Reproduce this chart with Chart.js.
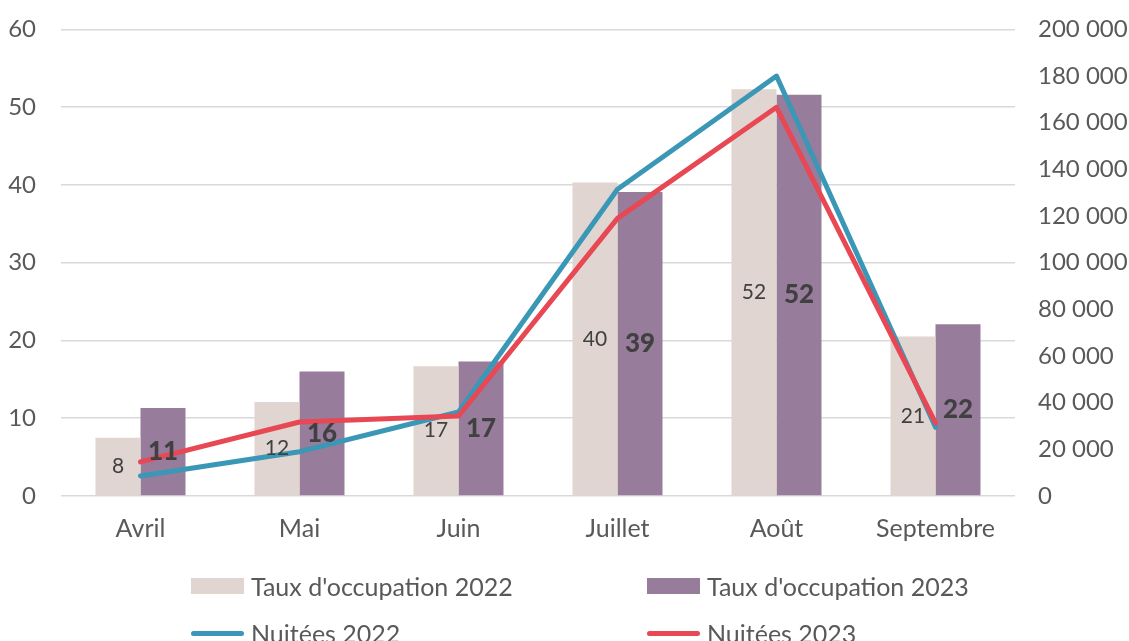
<!DOCTYPE html>
<html lang="fr">
<head>
<meta charset="utf-8">
<title>Taux d'occupation et nuitées</title>
<script src="https://cdn.jsdelivr.net/npm/chart.js@4.4.1/dist/chart.umd.min.js"></script>
<style>
    html, body { margin: 0; padding: 0; background: #fff; }
    #wrap { position: relative; width: 1129px; height: 641px; overflow: hidden; }
    #chart { position: absolute; left: 0; top: -10px; }
    #legend { position: absolute; left: 0; top: 0; font-family: Lato, sans-serif; font-size: 25px; color: #595959; }
    .item { position: absolute; display: flex; align-items: center; height: 30px; white-space: nowrap; }
    .swatch { width: 53px; height: 16px; margin-right: 7px; }
    .swatch.line { height: 5px; border-radius: 3px; }
</style>
</head>
<body>
<div id="wrap">
    <canvas id="chart" width="1129" height="651"></canvas>
    <div id="legend"></div>
</div>
<script>
(function () {
    "use strict";

    // Data
    const months = ["Avril", "Mai", "Juin", "Juillet", "Août", "Septembre"];
    const occupation2022 = [7.5, 12.1, 16.7, 40.3, 52.3, 20.5];
    const occupation2023 = [11.3, 16.0, 17.3, 39.1, 51.6, 22.1];
    const nuitees2022 = [8600, 19000, 36000, 131500, 180000, 29500];
    const nuitees2023 = [14600, 31700, 34300, 119000, 166600, 31300];

    const textColor = "#595959";
    const gridColor = "#d9d9d9";
    const colors = {
        occ2022: "#e0d5d0",
        occ2023: "#977c9c",
        nui2022: "#3a97b5",
        nui2023: "#e84754",
    };

    function spaced(v) {
        return String(v).replace(/\B(?=(\d{3})+(?!\d))/g, " ");
    }

    // Value labels centred in the bars
    const barLabels = {
        id: "barLabels",
        afterDatasetsDraw(chart) {
            const ctx = chart.ctx;
            chart.data.datasets.forEach((ds, i) => {
                if (ds.type !== "bar") return;
                const meta = chart.getDatasetMeta(i);
                meta.data.forEach((bar, j) => {
                    ctx.save();
                    ctx.font = ds.labelFont;
                    ctx.fillStyle = "#404040";
                    ctx.textAlign = "center";
                    ctx.textBaseline = "middle";
                    ctx.fillText(Math.round(ds.data[j]), bar.x, (bar.y + bar.base) / 2);
                    ctx.restore();
                });
            });
        },
    };

    const ctx = document.getElementById("chart").getContext("2d");

    new Chart(ctx, {
        type: "bar",
        data: {
            labels: months,
            datasets: [
                {
                    type: "line",
                    label: "Nuitées 2023",
                    data: nuitees2023,
                    yAxisID: "y1",
                    borderColor: colors.nui2023,
                    backgroundColor: colors.nui2023,
                    borderWidth: 5,
                    pointRadius: 0,
                    borderCapStyle: "round",
                    borderJoinStyle: "round",
                    tension: 0,
                    order: 1,
                },
                {
                    type: "line",
                    label: "Nuitées 2022",
                    data: nuitees2022,
                    yAxisID: "y1",
                    borderColor: colors.nui2022,
                    backgroundColor: colors.nui2022,
                    borderWidth: 5,
                    pointRadius: 0,
                    borderCapStyle: "round",
                    borderJoinStyle: "round",
                    tension: 0,
                    order: 2,
                },
                {
                    type: "bar",
                    label: "Taux d'occupation 2022",
                    data: occupation2022,
                    yAxisID: "y",
                    backgroundColor: colors.occ2022,
                    categoryPercentage: 0.566,
                    barPercentage: 1,
                    labelFont: "21px Lato",
                    order: 3,
                },
                {
                    type: "bar",
                    label: "Taux d'occupation 2023",
                    data: occupation2023,
                    yAxisID: "y",
                    backgroundColor: colors.occ2023,
                    categoryPercentage: 0.566,
                    barPercentage: 1,
                    labelFont: "900 26px Lato",
                    order: 4,
                },
            ],
        },
        options: {
            responsive: false,
            animation: false,
            layout: { padding: { top: 21, left: 0, right: 0, bottom: 0 } },
            plugins: {
                legend: { display: false },
                tooltip: { enabled: false },
            },
            scales: {
                x: {
                    grid: { display: false, drawTicks: false },
                    border: { display: false },
                    ticks: {
                        color: textColor,
                        font: { family: "Lato", size: 25 },
                        padding: 18,
                    },
                    afterFit(scale) {
                        scale.height = 145;
                    },
                },
                y: {
                    position: "left",
                    min: 0,
                    max: 60,
                    ticks: {
                        stepSize: 10,
                        color: textColor,
                        font: { family: "Lato", size: 24 },
                        padding: 25,
                    },
                    grid: { color: gridColor, lineWidth: 1.5, drawTicks: false },
                    border: { display: false },
                    afterFit(scale) {
                        scale.width = 61;
                    },
                },
                y1: {
                    position: "right",
                    min: 0,
                    max: 200000,
                    ticks: {
                        stepSize: 20000,
                        color: textColor,
                        font: { family: "Lato", size: 24 },
                        padding: 23,
                        callback: (v) => spaced(v),
                    },
                    grid: { display: false, drawTicks: false },
                    border: { display: false },
                    afterFit(scale) {
                        scale.width = 114;
                    },
                },
            },
        },
        plugins: [barLabels],
    });

    // Legend, two columns
    const legendItems = [
        { label: "Taux d'occupation 2022", color: colors.occ2022, line: false, x: 191, y: 586 },
        { label: "Taux d'occupation 2023", color: colors.occ2023, line: false, x: 647, y: 586 },
        { label: "Nuitées 2022", color: colors.nui2022, line: true, x: 191, y: 633 },
        { label: "Nuitées 2023", color: colors.nui2023, line: true, x: 647, y: 633 },
    ];
    const legendEl = document.getElementById("legend");
    legendItems.forEach((it) => {
        const item = document.createElement("div");
        item.className = "item";
        item.style.left = it.x + "px";
        item.style.top = (it.y - 15) + "px";
        const sw = document.createElement("span");
        sw.className = "swatch" + (it.line ? " line" : "");
        sw.style.background = it.color;
        const txt = document.createElement("span");
        txt.textContent = it.label;
        item.appendChild(sw);
        item.appendChild(txt);
        legendEl.appendChild(item);
    });
})();
</script>
</body>
</html>
